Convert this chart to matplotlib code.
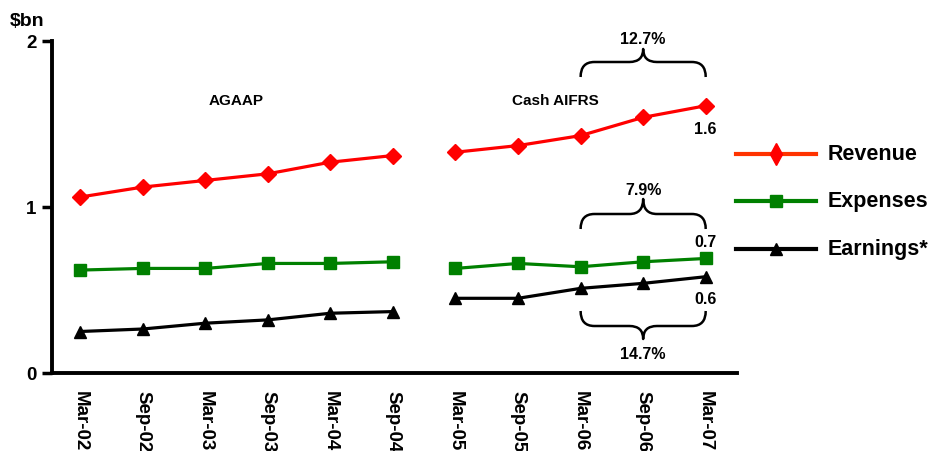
import matplotlib
matplotlib.use("Agg")
import matplotlib.pyplot as plt
from matplotlib.path import Path
from matplotlib.patches import PathPatch
from matplotlib.lines import Line2D

plt.rcParams['font.family'] = ['Liberation Sans', 'DejaVu Sans']
plt.rcParams['font.weight'] = 'bold'

periods = ["Mar-02", "Sep-02", "Mar-03", "Sep-03", "Mar-04", "Sep-04",
           "Mar-05", "Sep-05", "Mar-06", "Sep-06", "Mar-07"]
revenue = [1.06, 1.12, 1.16, 1.20, 1.27, 1.31, 1.33, 1.37, 1.43, 1.54, 1.61]
expenses = [0.62, 0.63, 0.63, 0.66, 0.66, 0.67, 0.63, 0.66, 0.64, 0.67, 0.69]
earnings = [0.25, 0.265, 0.30, 0.32, 0.36, 0.37, 0.45, 0.45, 0.51, 0.54, 0.58]
series_names = ["Revenue", "Expenses", "Earnings*"]
segments = [(0, 6), (6, 11)]
growth_labels = ["12.7%", "7.9%", "14.7%"]
end_labels = ["1.6", "0.7", "0.6"]

fig = plt.figure(figsize=(9.31, 4.52), dpi=100)
ax = fig.add_axes([52/931, 1-374/452, (737-52)/931, (374-42)/452])

x = list(range(len(periods)))
styles = [
    (revenue, "#FF0000", "D", 8.5),
    (expenses, "#008000", "s", 8),
    (earnings, "#000000", "^", 9),
]
for vals, col, mk, ms in styles:
    for a, b in segments:
        ax.plot(x[a:b], vals[a:b], color=col, lw=2.3, marker=mk, ms=ms,
                markeredgecolor=col, clip_on=False, zorder=3)

ax.set_xlim(-0.45, 10.5)
ax.set_ylim(0, 2)
ax.set_yticks([0, 1, 2])
ax.set_yticklabels(["0", "1", "2"], fontsize=13.5, fontweight='bold')
ax.set_xticks(x)
ax.set_xticklabels(periods, rotation=-90, fontsize=13.5, fontweight='bold')
ax.tick_params(axis='x', length=0, pad=12)
ax.tick_params(axis='y', length=7, width=2.5, direction='out', pad=4)
for s in ["top", "right"]:
    ax.spines[s].set_visible(False)
for s in ["left", "bottom"]:
    ax.spines[s].set_linewidth(2.8)
ax.spines["bottom"].set_bounds(-0.45, 10.5)

fig.text(10/931, 1-22/452, "$bn", fontsize=14, fontweight='bold', va='center', ha='left')

ax.text(2.5, (374-101)/166, "AGAAP", fontsize=11, fontweight='bold', ha='center', va='center')
ax.text(7.6, (374-101)/166, "Cash AIFRS", fontsize=11, fontweight='bold', ha='center', va='center')


def brace(ax, x0, x1, y_end, y_bar, y_tip, r=0.22):
    xm = (x0 + x1) / 2
    verts = [(x0, y_end), (x0, y_bar), (x0 + r, y_bar),
             (xm - r, y_bar), (xm, y_bar), (xm, y_tip),
             (xm, y_bar), (xm + r, y_bar),
             (x1 - r, y_bar), (x1, y_bar), (x1, y_end)]
    codes = [Path.MOVETO, Path.CURVE3, Path.CURVE3,
             Path.LINETO, Path.CURVE3, Path.CURVE3,
             Path.CURVE3, Path.CURVE3,
             Path.LINETO, Path.CURVE3, Path.CURVE3]
    p = PathPatch(Path(verts, codes), fill=False, lw=1.8, color='black',
                  clip_on=False, capstyle='butt', joinstyle='round')
    ax.add_patch(p)


def py(v):
    return (374 - v) / 166

brace(ax, 8, 10, py(78), py(63), py(50))
brace(ax, 8, 10, py(230), py(215), py(200))
brace(ax, 8, 10, py(312), py(327), py(340))
ax.text(9, py(40), growth_labels[0], fontsize=11.5, fontweight='bold', ha='center', va='center')
ax.text(9, py(191), growth_labels[1], fontsize=11.5, fontweight='bold', ha='center', va='center')
ax.text(9, py(355), growth_labels[2], fontsize=11.5, fontweight='bold', ha='center', va='center')

ax.text(10, py(130), end_labels[0], fontsize=11.5, fontweight='bold', ha='center', va='center')
ax.text(10, py(243), end_labels[1], fontsize=11.5, fontweight='bold', ha='center', va='center')
ax.text(10, py(300), end_labels[2], fontsize=11.5, fontweight='bold', ha='center', va='center')

# legend
leg_y = [155, 202, 250]
leg_cols = ["#FF3300", "#008000", "#000000"]
leg_mk = ["d", "s", "^"]
leg_mcol = ["#FF0000", "#008000", "#000000"]
for name, yy, col, mk, mc in zip(series_names, leg_y, leg_cols, leg_mk, leg_mcol):
    fy = 1 - yy / 452
    fig.add_artist(Line2D([736/931, 816/931], [fy, fy], color=col, lw=3))
    fig.add_artist(Line2D([776/931], [fy], marker=mk, color=mc, ms=8 if mk != 'd' else 11,
                          markeredgecolor=mc, lw=0))
    fig.text(828/931, fy, name, fontsize=15.5, fontweight='bold', va='center', ha='left')

fig.savefig("out.png", dpi=100)
